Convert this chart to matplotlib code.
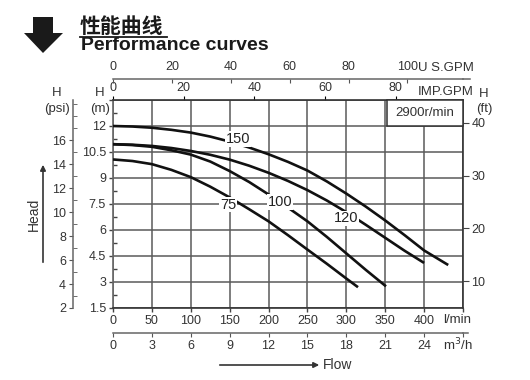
import numpy as np
import matplotlib
matplotlib.use("Agg")
import matplotlib.pyplot as plt
from matplotlib.patches import Polygon, Rectangle, FancyArrowPatch
from matplotlib.lines import Line2D

plt.rcParams['font.family'] = ['Liberation Sans', 'DejaVu Sans']

# ---------------- data ----------------
q_150 = [0, 25, 50, 75, 100, 125, 150, 175, 200, 225, 250, 275, 300, 325, 350, 375, 400, 431]
h_150 = [12.0, 11.97, 11.9, 11.78, 11.62, 11.39, 11.1, 10.76, 10.37, 9.93, 9.43, 8.8, 8.1, 7.35, 6.55, 5.7, 4.82, 3.98]

q_120 = [0, 25, 50, 75, 100, 125, 150, 175, 200, 225, 250, 275, 300, 325, 350, 375, 400]
h_120 = [10.95, 10.92, 10.85, 10.73, 10.56, 10.34, 10.06, 9.71, 9.3, 8.83, 8.3, 7.7, 7.03, 6.3, 5.55, 4.8, 4.1]

q_100 = [0, 25, 50, 75, 100, 125, 150, 175, 200, 225, 250, 275, 300, 325, 351]
h_100 = [10.95, 10.9, 10.8, 10.6, 10.35, 9.95, 9.4, 8.77, 8.05, 7.29, 6.5, 5.6, 4.65, 3.7, 2.75]

q_75 = [0, 25, 50, 75, 100, 125, 150, 175, 200, 225, 250, 275, 300, 315]
h_75 = [10.07, 9.98, 9.8, 9.47, 9.05, 8.5, 7.88, 7.2, 6.5, 5.7, 4.87, 4.05, 3.2, 2.7]

curve_labels = ["150", "120", "100", "75"]
label_q = [161, 299.5, 215, 148]
label_h = [11.24, 6.67, 7.63, 7.47]

lmin_ticks = [0, 50, 100, 150, 200, 250, 300, 350, 400, 450]
lmin_labels = ["0", "50", "100", "150", "200", "250", "300", "350", "400", ""]
m_ticks = [1.5, 3, 4.5, 6, 7.5, 9, 10.5, 12, 13.5]
m_labels = ["1.5", "3", "4.5", "6", "7.5", "9", "10.5", "12", ""]
psi_ticks = [2, 4, 6, 8, 10, 12, 14, 16]
psi_minor = [3, 5, 7, 9, 11, 13, 15, 17, 18, 19]
ft_ticks = [10, 20, 30, 40]
m3h_ticks = [0, 3, 6, 9, 12, 15, 18, 21, 24, 27]
m3h_labels = ["0", "3", "6", "9", "12", "15", "18", "21", "24", ""]
usgpm_ticks = [0, 20, 40, 60, 80, 100]
impgpm_ticks = [0, 20, 40, 60, 80]
speed_text = "2900r/min"

# ---------------- figure ----------------
W, H = 530, 380
fig = plt.figure(figsize=(W / 100, H / 100), dpi=100)

def fx(px):
    return px / W

def fy(py):
    return 1 - py / H

TXT = '#333333'
GRID = '#5a5a5a'

ax = fig.add_axes([fx(113), fy(308), 350 / W, 208 / H])
ax.set_xlim(0, 450)
ax.set_ylim(1.5, 13.5)
ax.set_xticks(lmin_ticks)
ax.set_xticklabels(lmin_labels)
ax.set_yticks(m_ticks)
ax.set_yticklabels(m_labels)
ax.set_yticks(np.arange(2.25, 13.5, 1.5), minor=True)
ax.grid(True, which='major', color=GRID, lw=1.1)
ax.tick_params(axis='both', which='major', direction='out', length=3, width=1,
               labelsize=9, labelcolor=TXT, color='#444444')
ax.tick_params(axis='y', which='minor', direction='in', length=3, width=1, color='#444444')
ax.tick_params(axis='x', pad=2)
ax.tick_params(axis='y', pad=2)
for s in ax.spines.values():
    s.set_color('#333333')
    s.set_linewidth(1.2)
ax.spines['left'].set_color('#666666')

for q, h in [(q_150, h_150), (q_120, h_120), (q_100, h_100), (q_75, h_75)]:
    ax.plot(q, h, color='#111111', lw=1.9, solid_capstyle='butt', solid_joinstyle='round', zorder=3)

for t, q, h in zip(curve_labels, label_q, label_h):
    ax.text(q, h, t, ha='center', va='center', fontsize=10.5, color='#222222', zorder=4,
            bbox=dict(facecolor='white', edgecolor='none', pad=0.6))

# speed box
ax.add_patch(Rectangle((352, 12), 98, 1.5, facecolor='white', edgecolor='#333333',
                       lw=1.1, zorder=5, clip_on=False))
ax.text(401, 12.75, speed_text, ha='center', va='center', fontsize=9.5, color=TXT, zorder=6)

# secondary axes
imp = ax.secondary_xaxis('top', functions=(lambda q: q / 4.54609, lambda g: g * 4.54609))
imp.set_xticks(impgpm_ticks)
imp.tick_params(direction='out', length=3, labelsize=9, labelcolor=TXT, pad=1)
imp.spines['top'].set_visible(False)

us = ax.secondary_xaxis((308 - 79) / 208, functions=(lambda q: q / 3.78541, lambda g: g * 3.78541))
us.set_xticks(usgpm_ticks)
us.tick_params(direction='in', length=3, labelsize=9, labelcolor=TXT, pad=4, color='#555555')
us.spines['top'].set_color('#666666')
us.spines['top'].set_linewidth(1.1)

m3 = ax.secondary_xaxis(-(333 - 308) / 208, functions=(lambda q: q * 0.06, lambda m: m / 0.06))
m3.set_xticks(m3h_ticks)
m3.set_xticklabels(m3h_labels)
m3.tick_params(direction='out', length=3, labelsize=9, labelcolor=TXT, pad=2, color='#555555')
m3.spines['bottom'].set_color('#666666')
m3.spines['bottom'].set_linewidth(1.1)

ft = ax.secondary_yaxis('right', functions=(lambda h: h * 3.28084, lambda f: f / 3.28084))
ft.set_yticks(ft_ticks)
ft.tick_params(direction='out', length=4, labelsize=9, labelcolor=TXT, pad=2, color='#444444')
ft.spines['right'].set_visible(False)

PSI_K = 1.4463  # psi scale as printed on the chart (2 psi at 1.5 m)
psi = ax.secondary_yaxis(-40 / 350, functions=(lambda h: 2 + (h - 1.5) * PSI_K,
                                               lambda p: 1.5 + (p - 2) / PSI_K))
psi.set_yticks(psi_ticks)
psi.set_yticks(psi_minor, minor=True)
psi.tick_params(which='major', direction='out', length=3, labelsize=9, labelcolor=TXT, pad=2, color='#555555')
psi.tick_params(which='minor', direction='in', length=3, color='#555555')
psi.spines['left'].set_color('#666666')
psi.spines['left'].set_linewidth(1.1)

# axis line extensions
fig.add_artist(Line2D([fx(463), fx(470)], [fy(79), fy(79)], color='#666666', lw=1.1))
fig.add_artist(Line2D([fx(463), fx(468)], [fy(333), fy(333)], color='#666666', lw=1.1))

# unit labels
fig.text(fx(418), fy(68), "U S.GPM", ha='left', va='center', fontsize=9.5, color=TXT)
fig.text(fx(418), fy(92), "IMP.GPM", ha='left', va='center', fontsize=9.5, color=TXT)
fig.text(fx(443), fy(320), "l/min", ha='left', va='center', fontsize=9.5, color=TXT)
fig.text(fx(443), fy(345), "m$^3$/h", ha='left', va='center', fontsize=9.5, color=TXT)
fig.text(fx(57), fy(93), "H", ha='center', va='center', fontsize=9.5, color=TXT)
fig.text(fx(57), fy(109), "(psi)", ha='center', va='center', fontsize=9.5, color=TXT)
fig.text(fx(100), fy(93), "H", ha='center', va='center', fontsize=9.5, color=TXT)
fig.text(fx(100), fy(109), "(m)", ha='center', va='center', fontsize=9.5, color=TXT)
fig.text(fx(484), fy(94), "H", ha='center', va='center', fontsize=9.5, color=TXT)
fig.text(fx(484), fy(109), "(ft)", ha='center', va='center', fontsize=9.5, color=TXT)

# Head / Flow arrows
fig.add_artist(FancyArrowPatch((fx(43), fy(265)), (fx(43), fy(162)), transform=fig.transFigure,
                               arrowstyle='-|>', mutation_scale=8, lw=1.2, color='#333333'))
fig.text(fx(34), fy(214), "Head", rotation=90, ha='center', va='center', fontsize=10, color=TXT)
fig.add_artist(FancyArrowPatch((fx(217), fy(365)), (fx(322), fy(365)), transform=fig.transFigure,
                               arrowstyle='-|>', mutation_scale=8, lw=1.2, color='#333333'))
fig.text(fx(323), fy(365), "Flow", ha='left', va='center', fontsize=10, color=TXT)

# title block
arrow_px = [(33, 17), (53, 17), (53, 33), (63, 33), (43, 53), (24, 33), (33, 33)]
fig.add_artist(Polygon([(fx(a), fy(b)) for a, b in arrow_px], closed=True,
                       transform=fig.transFigure, facecolor='#1a1a1a', edgecolor='none'))
fig.text(fx(80), fy(26.5), "性能曲线", ha='left', va='center', fontsize=15, fontweight='bold',
         color='#1a1a1a', family=['Noto Sans CJK SC', 'DejaVu Sans'])
fig.add_artist(Line2D([fx(80), fx(167)], [fy(36.5), fy(36.5)], color='#1a1a1a', lw=1.3))
fig.text(fx(81), fy(46), "Performance curves", ha='left', va='center', fontsize=14,
         fontweight='bold', color='#1a1a1a')

fig.savefig("out.png", dpi=100)
